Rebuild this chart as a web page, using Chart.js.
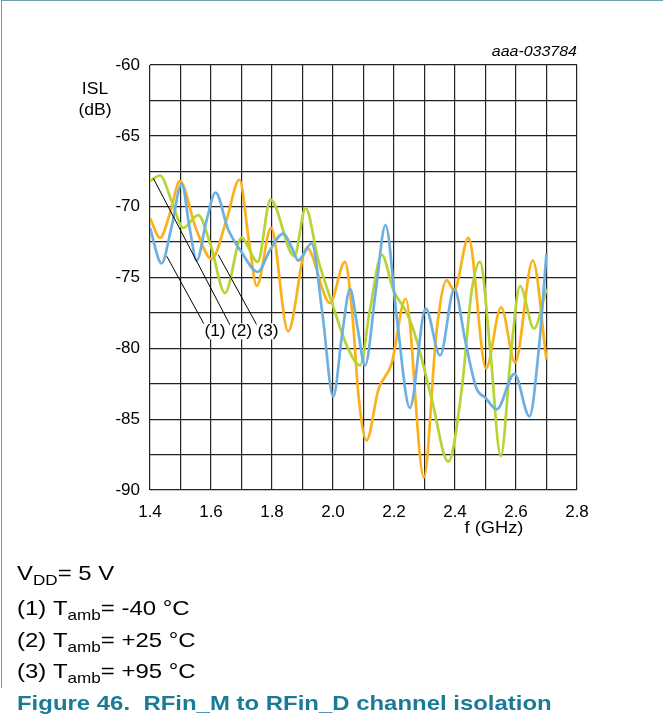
<!DOCTYPE html>
<html>
<head>
<meta charset="utf-8">
<script src="https://cdn.jsdelivr.net/npm/chart.js@4.4.1/dist/chart.umd.min.js"></script>
<style>
  html, body { margin: 0; padding: 0; background: #fff; }
  #wrap { position: relative; width: 663px; height: 725px; }
  #isl { display: block; }
  #frame { position: absolute; left: 1px; top: 0; width: 662px; height: 687px;
           border-left: 1px solid #6f9fb2; border-top: 1px solid #6f9fb2; pointer-events: none; }
</style>
</head>
<body>
<div id="wrap">
  <canvas id="isl" width="663" height="725"></canvas>
  <div id="frame"></div>
</div>
<script>
// frecuencias (GHz) y aislamiento (dB)
const blueF = [1.40, 1.438, 1.47, 1.504, 1.53, 1.553, 1.585, 1.615, 1.656, 1.70, 1.753, 1.795, 1.837, 1.865, 1.886, 1.93, 1.965, 2.001, 2.03, 2.056, 2.08, 2.105, 2.14, 2.172, 2.21, 2.252, 2.304, 2.351, 2.398, 2.433, 2.47, 2.50, 2.537, 2.595, 2.644, 2.675, 2.70];
const blueISL = [-71.5, -74.0, -71.5, -68.4, -71.5, -73.8, -71.0, -69.0, -71.6, -73.2, -74.6, -73.0, -71.9, -72.9, -73.8, -72.6, -77.5, -83.4, -79.0, -75.8, -78.5, -81.2, -76.0, -71.3, -78.0, -84.2, -77.2, -80.5, -75.8, -79.4, -82.8, -83.5, -84.3, -81.8, -84.8, -80.0, -73.3];

const greenF = [1.40, 1.433, 1.471, 1.509, 1.558, 1.60, 1.646, 1.70, 1.753, 1.795, 1.873, 1.91, 1.952, 2.0, 2.045, 2.089, 2.121, 2.16, 2.198, 2.242, 2.274, 2.324, 2.378, 2.422, 2.455, 2.482, 2.515, 2.55, 2.585, 2.613, 2.659, 2.70];
const greenISL = [-68.2, -67.8, -69.6, -71.5, -70.6, -72.8, -76.1, -72.2, -73.9, -69.5, -73.5, -70.1, -73.8, -77.0, -79.8, -81.2, -77.3, -73.4, -75.9, -77.5, -79.4, -83.6, -88.0, -82.9, -75.9, -73.9, -80.0, -87.6, -80.0, -75.6, -78.6, -75.8];

const orangeF = [1.40, 1.433, 1.465, 1.498, 1.55, 1.602, 1.65, 1.693, 1.725, 1.75, 1.797, 1.853, 1.914, 1.99, 2.039, 2.065, 2.083, 2.11, 2.149, 2.192, 2.238, 2.298, 2.34, 2.373, 2.397, 2.444, 2.502, 2.551, 2.597, 2.655, 2.70];
const orangeISL = [-70.8, -72.2, -70.5, -68.2, -71.5, -73.7, -71.0, -68.1, -72.5, -75.6, -71.5, -78.8, -72.9, -76.8, -73.9, -78.0, -83.2, -86.5, -82.9, -81.1, -76.5, -89.1, -78.7, -75.2, -75.9, -72.2, -81.4, -77.1, -81.0, -73.8, -80.8];

// etiquetas (1)(2)(3) y sus líneas guía, en coordenadas de datos
const curveLabels = ['(1)', '(2)', '(3)'];
const labelF = [1.613, 1.70, 1.787];
const labelISL = -78.8;
const leaderFromF = [1.455, 1.411, 1.624];
const leaderFromISL = [-73.5, -68.0, -73.4];
const leaderToF = [1.58, 1.666, 1.754];
const leaderToISL = [-78.4, -78.5, -78.5];

const FONT = '"Liberation Sans", Arial, sans-serif';
const SX = 1.14; // el texto del original es algo más ancho

const toPoints = (fs, vs) => fs.map((f, i) => ({ x: f, y: vs[i] }));

const serie = (data, color) => ({
  data: data,
  borderColor: color,
  borderWidth: 2.7,
  pointRadius: 0,
  fill: false,
  cubicInterpolationMode: 'monotone',
});

// texto estirado en horizontal; devuelve el ancho dibujado
const wideText = (ctx, t, x, y, align, sx) => {
  const w = ctx.measureText(t).width * sx;
  const left = align === 'center' ? x - w / 2 : align === 'right' ? x - w : x;
  ctx.save();
  ctx.translate(left, y);
  ctx.scale(sx, 1);
  ctx.textAlign = 'left';
  ctx.fillText(t, 0, 0);
  ctx.restore();
  return w;
};

const extrasPlugin = {
  id: 'extras',
  afterDatasetsDraw(chart) {
    const { ctx, scales: { x, y } } = chart;
    ctx.save();
    // líneas guía
    ctx.strokeStyle = '#000';
    ctx.lineWidth = 1;
    for (let i = 0; i < curveLabels.length; i++) {
      ctx.beginPath();
      ctx.moveTo(x.getPixelForValue(leaderFromF[i]), y.getPixelForValue(leaderFromISL[i]));
      ctx.lineTo(x.getPixelForValue(leaderToF[i]), y.getPixelForValue(leaderToISL[i]));
      ctx.stroke();
    }
    ctx.font = '16px ' + FONT;
    ctx.textBaseline = 'middle';
    for (let i = 0; i < curveLabels.length; i++) {
      const px = x.getPixelForValue(labelF[i]);
      const py = y.getPixelForValue(labelISL);
      const w = ctx.measureText(curveLabels[i]).width * 1.08;
      ctx.fillStyle = '#fff';
      ctx.fillRect(px - w / 2 - 1, py - 8, w + 2, 16);
      ctx.fillStyle = '#000';
      wideText(ctx, curveLabels[i], px, py, 'center', 1.08);
    }
    ctx.restore();
  },
  afterDraw(chart) {
    const { ctx } = chart;
    ctx.save();
    ctx.fillStyle = '#000';
    ctx.textBaseline = 'alphabetic';
    ctx.font = '16px ' + FONT;
    wideText(ctx, 'ISL', 95, 94, 'center', 1.1);
    wideText(ctx, '(dB)', 95, 115, 'center', 1.1);
    wideText(ctx, 'f (GHz)', 494, 533, 'center', SX);
    ctx.font = 'italic 14px ' + FONT;
    wideText(ctx, 'aaa-033784', 577, 56, 'right', SX);

    // texto con subíndices
    const line = (parts, x0, base, size) => {
      let cx = x0;
      parts.forEach(([t, sub]) => {
        ctx.font = (sub ? Math.round(size * 0.72) : size) + 'px ' + FONT;
        cx += wideText(ctx, t, cx, sub ? base + size * 0.22 : base, 'left', SX);
      });
    };
    line([['V'], ['DD', true], ['= 5 V']], 17, 580, 21);
    line([['(1) T'], ['amb', true], ['= -40 °C']], 17, 615, 21);
    line([['(2) T'], ['amb', true], ['= +25 °C']], 17, 647, 21);
    line([['(3) T'], ['amb', true], ['= +95 °C']], 17, 678, 21);
    ctx.font = 'bold 21px ' + FONT;
    ctx.fillStyle = '#1b7b97';
    wideText(ctx, 'Figure 46.  RFin_M to RFin_D channel isolation', 17, 710, 'left', SX);
    ctx.restore();
  },
};

const ctx = document.getElementById('isl').getContext('2d');

new Chart(ctx, {
  type: 'line',
  data: {
    datasets: [
      serie(toPoints(blueF, blueISL), '#6cb0e2'),
      serie(toPoints(greenF, greenISL), '#b6d433'),
      serie(toPoints(orangeF, orangeISL), '#fbb11b'),
    ],
  },
  options: {
    responsive: false,
    animation: false,
    devicePixelRatio: 1,
    layout: { padding: { top: 65, right: 86, bottom: 190, left: 0 } },
    plugins: { legend: { display: false }, tooltip: { enabled: false } },
    scales: {
      x: {
        type: 'linear',
        min: 1.4,
        max: 2.8,
        afterFit: (s) => { s.height = 45; },
        grid: { color: '#222', lineWidth: 1.2, drawTicks: false },
        border: { display: false },
        ticks: {
          stepSize: 0.1,
          padding: 12,
          color: '#000',
          font: { family: FONT, size: 17 },
          maxRotation: 0,
          autoSkip: false,
          callback: (v) => (Math.round(v * 10) % 2 === 0 ? v.toFixed(1) : ''),
        },
      },
      y: {
        min: -90,
        max: -60,
        afterFit: (s) => { s.width = 150; },
        grid: { color: '#222', lineWidth: 1.2, drawTicks: false },
        border: { display: false },
        ticks: {
          stepSize: 2.5,
          padding: 10,
          color: '#000',
          font: { family: FONT, size: 17 },
          autoSkip: false,
          callback: (v) => (v % 5 === 0 ? String(v) : ''),
        },
      },
    },
  },
  plugins: [extrasPlugin],
});
</script>
</body>
</html>
